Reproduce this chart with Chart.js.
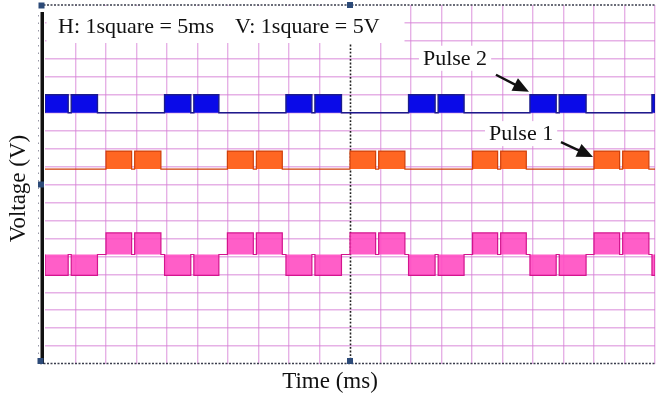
<!DOCTYPE html>
<html>
<head>
<meta charset="utf-8">
<script src="https://cdn.jsdelivr.net/npm/chart.js@4.4.1/dist/chart.umd.min.js"></script>
<style>
  html, body { margin: 0; padding: 0; background: #fff; overflow: hidden; }
  canvas { display: block; }
</style>
</head>
<body>
<canvas id="scope" width="656" height="394"></canvas>
<script>
// Horizontal: 5 ms per square, 20 squares
const timeRange = [0, 100];
const timeStep = 5;
// Vertical: 5 V per square, 20 squares centred on 0 V
const voltRange = [-50, 50];
const voltStep = 5;

// Pulse 1 (orange) edge times, ms
const pulse1On  = [10, 14.7, 29.9, 34.65, 50, 54.7, 70.1, 74.7, 90, 94.7];
const pulse1Off = [14.2, 19, 34.15, 38.9, 54.2, 59, 74.2, 78.9, 94.2, 99];
// Pulse 2 (blue) edge times, ms
const pulse2On  = [0, 4.3, 19.6, 24.4, 39.5, 44.25, 59.6, 64.45, 79.5, 84.3, 99.5];
const pulse2Off = [3.8, 8.6, 23.9, 28.5, 43.75, 48.6, 63.95, 68.7, 83.8, 88.7, 100];

// Trace levels, V: [idle, active]
const pulse1Levels = [4.3, 9.3];
const pulse2Levels = [20, 25];
// Output trace, V: [idle, during pulse 1, during pulse 2]
const outputLevels = [-19.5, -13.5, -25.3];

// Callouts: text and the edge each one points at [ms, V]
const calloutText  = ['Pulse 2', 'Pulse 1'];
const calloutPoint = [[79.5, 25], [90, 9.3]];

// ---- build the point lists the line datasets need ----
function segments(on, off, level) {
  return on.map((t, i) => ({ on: t, off: off[i], level }));
}
function tracePoints(segs, idle) {
  const pts = [{ x: timeRange[0], y: idle }];
  segs.forEach(s => {
    pts.push({ x: s.on, y: idle }, { x: s.on, y: s.level },
             { x: s.off, y: s.level }, { x: s.off, y: idle });
  });
  pts.push({ x: timeRange[1], y: idle });
  return pts;
}
const p1Segs = segments(pulse1On, pulse1Off, pulse1Levels[1]);
const p2Segs = segments(pulse2On, pulse2Off, pulse2Levels[1]);
const outSegs = segments(pulse1On, pulse1Off, outputLevels[1])
  .concat(segments(pulse2On, pulse2Off, outputLevels[2]))
  .sort((a, b) => a.on - b.on);

const GRID = 'rgba(214,125,214,0.6)';
const SERIF = '"Liberation Serif", "Times New Roman", serif';

// Oscilloscope frame, header panel, callouts and axis captions
const scopeFrame = {
  id: 'scopeFrame',
  beforeDatasetsDraw(chart) {
    const { ctx, chartArea: a, scales: { x } } = chart;
    ctx.save();
    // dotted centre graticule line
    const cx = Math.round(x.getPixelForValue((timeRange[0] + timeRange[1]) / 2)) + 0.5;
    ctx.strokeStyle = '#1e1e1e';
    ctx.lineWidth = 1.6;
    ctx.setLineDash([1.8, 1.8]);
    ctx.beginPath();
    ctx.moveTo(cx, a.top);
    ctx.lineTo(cx, a.bottom);
    ctx.stroke();
    ctx.setLineDash([]);
    // white header panel
    ctx.fillStyle = '#fff';
    ctx.fillRect(a.left + 1.5, a.top + 1, 358, 37);
    ctx.restore();
  },
  afterDraw(chart) {
    const { ctx, chartArea: a, scales: { x, y } } = chart;
    ctx.save();

    // dotted top and bottom borders
    ctx.strokeStyle = '#3a3d4c';
    ctx.lineWidth = 1.4;
    ctx.setLineDash([2, 1.5]);
    [a.top, a.bottom - 0.5].forEach(py => {
      ctx.beginPath();
      ctx.moveTo(40, py);
      ctx.lineTo(656, py);
      ctx.stroke();
    });
    ctx.setLineDash([]);

    // heavy left rail with faint tick marks
    ctx.fillStyle = '#111';
    ctx.fillRect(a.left - 4.5, a.top + 7, 3.5, a.bottom - a.top - 7);
    ctx.strokeStyle = '#9a9aa8';
    ctx.lineWidth = 1;
    ctx.setLineDash([1.5, 6]);
    ctx.beginPath();
    ctx.moveTo(a.left - 6.5, a.top + 10);
    ctx.lineTo(a.left - 6.5, a.bottom - 4);
    ctx.stroke();
    ctx.setLineDash([]);

    // marker squares
    ctx.fillStyle = '#2c4a78';
    const cx = x.getPixelForValue((timeRange[0] + timeRange[1]) / 2);
    [[a.left - 3.5, a.top + 0.5], [a.left - 4, y.getPixelForValue(0)], [a.left - 4.5, a.bottom - 3],
     [cx, a.top], [cx, a.bottom - 3]].forEach(([mx, my]) => {
      ctx.fillRect(mx - 3, my - 3, 6, 6);
    });

    // header text
    ctx.fillStyle = '#111';
    ctx.font = '22px ' + SERIF;
    ctx.textBaseline = 'alphabetic';
    ctx.textAlign = 'left';
    ctx.fillText('H: 1square = 5ms', 58, 33, 160);
    ctx.fillText('V: 1square = 5V', 235, 33, 149);

    // callouts with arrows
    const textOffset = [[-107, -30], [-105, -11]];
    const tailOffset = [[-34, -20], [-33, -9]];
    const tipOffset  = [[-1, -3], [-1, 6]];
    calloutText.forEach((label, i) => {
      const px = x.getPixelForValue(calloutPoint[i][0]);
      const py = y.getPixelForValue(calloutPoint[i][1]);
      const tx = px + textOffset[i][0], ty = py + textOffset[i][1];
      const w = ctx.measureText(label).width;
      ctx.fillStyle = '#fff';
      ctx.fillRect(tx - 4, ty - 19, w + 8, 25);
      ctx.fillStyle = '#111';
      ctx.fillText(label, tx, ty);

      const x0 = px + tailOffset[i][0], y0 = py + tailOffset[i][1];
      const x1 = px + tipOffset[i][0], y1 = py + tipOffset[i][1];
      const ang = Math.atan2(y1 - y0, x1 - x0);
      const head = 16, half = 7;
      const bx = x1 - head * Math.cos(ang), by = y1 - head * Math.sin(ang);
      ctx.strokeStyle = '#111';
      ctx.lineWidth = 2.4;
      ctx.beginPath();
      ctx.moveTo(x0, y0);
      ctx.lineTo(bx + 2 * Math.cos(ang), by + 2 * Math.sin(ang));
      ctx.stroke();
      ctx.fillStyle = '#111';
      ctx.beginPath();
      ctx.moveTo(x1, y1);
      ctx.lineTo(bx + half * Math.sin(ang), by - half * Math.cos(ang));
      ctx.lineTo(bx - half * Math.sin(ang), by + half * Math.cos(ang));
      ctx.closePath();
      ctx.fill();
    });

    // axis captions
    ctx.fillStyle = '#111';
    ctx.font = '23px ' + SERIF;
    ctx.textAlign = 'center';
    ctx.fillText('Time (ms)', 330, 388);
    ctx.translate(25, 188.5);
    ctx.rotate(-Math.PI / 2);
    ctx.fillText('Voltage (V)', 0, 0);

    ctx.restore();
  }
};

function trace(label, segs, idle, fillColor, lineColor, width) {
  return {
    label,
    data: tracePoints(segs, idle),
    borderColor: lineColor,
    backgroundColor: fillColor,
    borderWidth: width,
    pointRadius: 0,
    tension: 0,
    fill: { value: idle }
  };
}

const hideEdge = (values) => (c) =>
  (c.tick && values.includes(c.tick.value)) ? 'rgba(0,0,0,0)' : GRID;

new Chart(document.getElementById('scope'), {
  type: 'line',
  data: {
    datasets: [
      trace('Output', outSegs, outputLevels[0], 'rgba(255,76,194,0.9)', '#d3158e', 1.2),
      trace('Pulse 1', p1Segs, pulse1Levels[0], '#ff6622', '#cf400c', 1.2),
      trace('Pulse 2', p2Segs, pulse2Levels[0], '#0a0ae8', '#1c1c8c', 1.4)
    ]
  },
  options: {
    responsive: false,
    animation: false,
    events: [],
    layout: { padding: { left: 45, top: 5, right: 1, bottom: 30 } },
    plugins: {
      legend: { display: false },
      tooltip: { enabled: false },
      title: { display: false }
    },
    scales: {
      x: {
        type: 'linear',
        min: timeRange[0],
        max: timeRange[1],
        ticks: { display: false, stepSize: timeStep },
        grid: { drawTicks: false, lineWidth: 1.4, color: hideEdge([timeRange[0], (timeRange[0] + timeRange[1]) / 2]) },
        border: { display: false }
      },
      y: {
        type: 'linear',
        min: voltRange[0],
        max: voltRange[1],
        ticks: { display: false, stepSize: voltStep },
        grid: { drawTicks: false, lineWidth: 1.4, color: hideEdge(voltRange) },
        border: { display: false }
      }
    }
  },
  plugins: [scopeFrame]
});
</script>
</body>
</html>
